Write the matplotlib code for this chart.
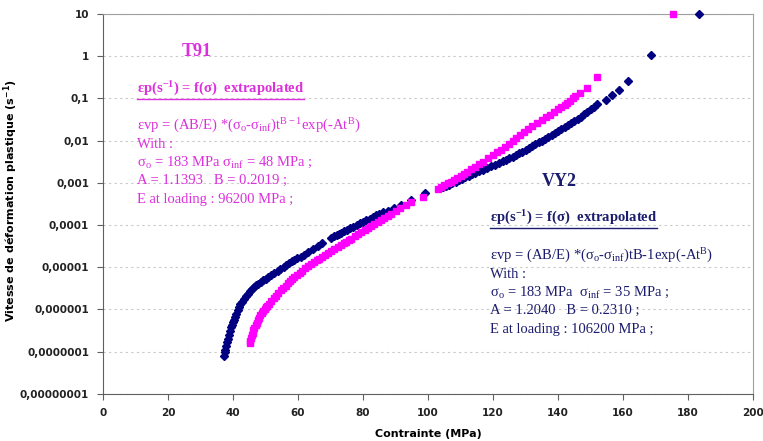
import matplotlib
matplotlib.use("Agg")
import matplotlib.pyplot as plt
from matplotlib.lines import Line2D
import numpy as np

# VY2 points : contrainte (MPa) and log10 of the rate (s-1)
vy2_x = [37.2, 37.4, 37.6, 37.85, 38.1, 38.4, 38.7, 39.0, 39.3, 39.65, 40.0, 40.3, 40.6,
         41.0, 41.4, 41.85, 42.3, 42.85, 43.4, 44.0, 44.6, 45.2, 45.8, 46.4, 47.1, 47.8,
         48.5, 49.3, 50.1, 50.9, 51.8, 52.7, 53.7, 54.6, 55.6, 56.4, 57.2, 58.0, 58.8,
         59.8, 60.8, 61.9, 63.0, 64.5, 66.0, 67.5, 70.2, 71.0, 72.0, 72.7, 73.3, 74.2,
         75.0, 76.0, 77.0, 78.0, 79.0, 80.0, 81.0, 82.0, 83.0, 84.0, 85.0, 86.0, 87.6,
         89.5, 91.8, 94.9, 99.0, 103.6, 104.6, 105.5, 106.5, 107.5, 108.5, 109.5, 110.5,
         111.5, 112.5, 113.5, 114.5, 115.7, 117.0, 118.2, 119.4, 120.6, 121.8, 123.0,
         124.0, 125.0, 126.0, 127.0, 128.0, 129.0, 130.0, 131.0, 132.0, 133.0, 134.0,
         135.0, 136.0, 137.0, 138.0, 139.0, 140.0, 141.0, 142.0, 143.0, 144.0, 145.0,
         146.0, 147.0, 148.0, 149.0, 150.0, 151.0, 152.0, 154.6, 156.6, 158.6, 161.6,
         168.6, 183.5]
vy2_log = [-7.10, -7.02, -6.95, -6.86, -6.78, -6.69, -6.60, -6.51, -6.42, -6.36, -6.30,
           -6.24, -6.18, -6.10, -6.02, -5.95, -5.88, -5.82, -5.76, -5.69, -5.63, -5.57,
           -5.52, -5.47, -5.43, -5.39, -5.36, -5.31, -5.27, -5.22, -5.18, -5.13, -5.08,
           -5.04, -5.00, -4.95, -4.90, -4.86, -4.83, -4.79, -4.75, -4.70, -4.65, -4.57,
           -4.50, -4.43, -4.30, -4.27, -4.23, -4.21, -4.19, -4.15, -4.12, -4.08, -4.04,
           -4.00, -3.96, -3.92, -3.88, -3.85, -3.81, -3.77, -3.74, -3.70, -3.66, -3.60,
           -3.53, -3.41, -3.25, -3.12, -3.10, -3.07, -3.04, -3.01, -2.97, -2.94, -2.90,
           -2.87, -2.83, -2.80, -2.77, -2.73, -2.69, -2.65, -2.61, -2.57, -2.53, -2.49,
           -2.45, -2.41, -2.38, -2.34, -2.30, -2.26, -2.22, -2.18, -2.13, -2.09, -2.04,
           -2.00, -1.95, -1.91, -1.86, -1.82, -1.77, -1.72, -1.68, -1.63, -1.58, -1.53,
           -1.48, -1.43, -1.37, -1.31, -1.25, -1.19, -1.13, -1.03, -0.92, -0.80, -0.59,
           0.04, 1.0]

# T91 points
t91_x = [45.2, 45.35, 45.5, 45.75, 46.0, 46.3, 46.6, 46.95, 47.3, 47.65, 48.0, 48.4,
         48.8, 49.25, 49.7, 50.15, 50.6, 51.2, 51.8, 52.5, 53.2, 53.9, 54.7, 55.4, 56.2,
         56.8, 57.5, 58.1, 58.8, 59.6, 60.5, 61.3, 62.2, 63.1, 64.0, 64.9, 65.8, 66.6,
         67.5, 68.3, 69.2, 70.2, 71.2, 72.2, 73.3, 74.0, 74.8, 75.6, 76.4, 77.4, 78.5,
         79.5, 80.5, 81.5, 82.5, 83.5, 84.5, 85.5, 86.5, 87.6, 88.7, 90.0, 91.5, 93.2,
         94.9, 98.5, 103.1, 104.0, 105.0, 106.0, 107.0, 108.0, 109.0, 110.0, 111.0,
         112.0, 113.2, 114.5, 115.7, 117.0, 118.5, 120.0, 121.2, 122.5, 123.6, 124.8,
         126.0, 127.0, 128.2, 129.5, 130.7, 132.0, 133.5, 135.1, 136.3, 137.5, 138.7,
         140.0, 141.0, 142.0, 142.9, 143.8, 144.6, 145.3, 146.6, 149.0, 152.1, 175.3]
t91_log = [-6.80, -6.74, -6.68, -6.61, -6.55, -6.49, -6.44, -6.38, -6.32, -6.26, -6.20,
           -6.14, -6.09, -6.04, -5.99, -5.95, -5.92, -5.86, -5.80, -5.73, -5.67, -5.61,
           -5.55, -5.49, -5.44, -5.38, -5.33, -5.28, -5.24, -5.19, -5.14, -5.08, -5.02,
           -4.97, -4.92, -4.88, -4.84, -4.80, -4.76, -4.71, -4.67, -4.62, -4.57, -4.52,
           -4.47, -4.43, -4.40, -4.36, -4.32, -4.27, -4.22, -4.16, -4.11, -4.06, -4.02,
           -3.97, -3.93, -3.88, -3.83, -3.78, -3.73, -3.66, -3.60, -3.52, -3.45, -3.33,
           -3.14, -3.10, -3.06, -3.01, -2.97, -2.93, -2.89, -2.84, -2.79, -2.74, -2.68,
           -2.62, -2.56, -2.50, -2.42, -2.35, -2.28, -2.21, -2.14, -2.07, -2.01, -1.94,
           -1.87, -1.80, -1.72, -1.65, -1.58, -1.51, -1.44, -1.38, -1.31, -1.25, -1.20,
           -1.15, -1.10, -1.05, -1.00, -0.95, -0.87, -0.74, -0.49, 1.0]

ytick_vals = [1e-8, 1e-7, 1e-6, 1e-5, 1e-4, 1e-3, 1e-2, 1e-1, 1, 10]
ytick_labels = ['0,00000001', '0,0000001', '0,000001', '0,00001', '0,0001',
                '0,001', '0,01', '0,1', '1', '10']
xtick_vals = list(range(0, 201, 20))

pink = '#ff00ff'
pink_txt = '#dc30dc'
navy = '#000080'
navy_txt = '#1c1c6e'

plt.rcParams['mathtext.default'] = 'regular'

fig = plt.figure(figsize=(7.63, 4.41), dpi=100)
ax = fig.add_axes([0.135, 0.107, 0.852, 0.861])

ax.plot(vy2_x, np.power(10.0, vy2_log), ls='none', marker='D', ms=3.6,
        color=navy, mec=navy, clip_on=False, zorder=3)
ax.plot(t91_x, np.power(10.0, t91_log), ls='none', marker='s', ms=3.8,
        color=pink, mec=pink, clip_on=False, zorder=3)

ax.set_yscale('log')
ax.set_ylim(1e-8, 10)
ax.set_xlim(0, 200)
ax.set_yticks(ytick_vals)
ax.set_yticklabels(ytick_labels)
ax.minorticks_off()
ax.set_xticks(xtick_vals)
ax.yaxis.grid(True, ls=(0, (2, 3)), color='#c8c8c8', lw=0.8)
for lab in ax.get_xticklabels() + ax.get_yticklabels():
    lab.set_fontweight('bold')
    lab.set_fontsize(7.5)
    lab.set_color('#222222')
ax.tick_params(length=4, color='#606060', pad=6)
for s in ax.spines.values():
    s.set_color('#a0a0a0')
ax.spines['left'].set_color('#606060')
ax.spines['bottom'].set_color('#606060')

ax.set_xlabel('Contrainte (MPa)', fontsize=8, fontweight='bold', labelpad=8)
ax.set_ylabel('Vitesse de déformation plastique (s$^{-1}$)', fontsize=8,
              fontweight='bold')
ax.yaxis.set_label_coords(-0.128, 0.51)

serif = 'Liberation Serif'

def px(x, y):
    # pixel position in the figure -> figure fraction
    return x / 763, 1 - y / 441

underlined = []

# T91 block
fig.text(*px(182, 52), 'T91', color=pink_txt, fontsize=13, fontweight='bold',
         family=serif, va='center')
t = fig.text(*px(137, 89), 'εp(s$^{-1}$) = f(σ)  extrapolated', color=pink_txt,
             fontsize=10.5, fontweight='bold', family=serif, va='center')
underlined.append((t, pink_txt))
t91_lines = ['εvp = (AB/E) *(σ$_o$-σ$_{inf}$)t$^{B-1}$exp(-At$^B$)',
             'With :',
             'σ$_o$ = 183 MPa σ$_{inf}$ = 48 MPa ;',
             'A = 1.1393   B = 0.2019 ;',
             'E at loading : 96200 MPa ;']
for i, s in enumerate(t91_lines):
    fig.text(*px(137, 126 + 18.3 * i), s, color=pink_txt, fontsize=10.5,
             family=serif, va='center')

# VY2 block
fig.text(*px(542, 181), 'VY2', color=navy_txt, fontsize=13, fontweight='bold',
         family=serif, va='center')
t = fig.text(*px(490, 218), 'εp(s$^{-1}$) = f(σ)  extrapolated', color=navy_txt,
             fontsize=10.5, fontweight='bold', family=serif, va='center')
underlined.append((t, navy_txt))
vy2_lines = ['εvp = (AB/E) *(σ$_o$-σ$_{inf}$)tB-1exp(-At$^B$)',
             'With :',
             'σ$_o$ = 183 MPa  σ$_{inf}$ = 35 MPa ;',
             'A = 1.2040   B = 0.2310 ;',
             'E at loading : 106200 MPa ;']
for i, s in enumerate(vy2_lines):
    fig.text(*px(490, 256 + 18.3 * i), s, color=navy_txt, fontsize=10.5,
             family=serif, va='center')

# underline the headings
fig.canvas.draw()
r = fig.canvas.get_renderer()
for t, c in underlined:
    bb = t.get_window_extent(r).transformed(fig.transFigure.inverted())
    fig.add_artist(Line2D([bb.x0, bb.x1], [bb.y0 - 0.002, bb.y0 - 0.002],
                          color=c, lw=1, transform=fig.transFigure))

fig.savefig('out.png', dpi=100)
